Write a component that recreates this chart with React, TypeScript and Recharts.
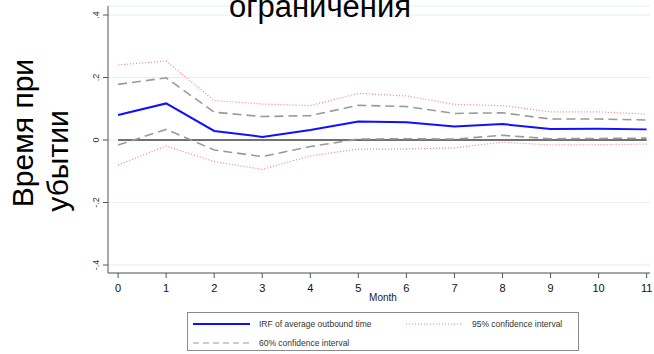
import React from "react";
import {
  LineChart,
  Line,
  XAxis,
  YAxis,
  CartesianGrid,
  ReferenceLine,
} from "recharts";

// Impulse response over 12 months with 60% and 95% bands
const months = [0, 1, 2, 3, 4, 5, 6, 7, 8, 9, 10, 11];
const irf = [0.08, 0.117, 0.029, 0.01, 0.032, 0.059, 0.057, 0.043, 0.051, 0.035, 0.036, 0.034];
const ci60Upper = [0.178, 0.199, 0.089, 0.075, 0.078, 0.111, 0.107, 0.085, 0.087, 0.067, 0.067, 0.064];
const ci60Lower = [-0.016, 0.034, -0.032, -0.053, -0.021, 0.003, 0.004, 0.003, 0.015, 0.004, 0.005, 0.006];
const ci95Upper = [0.24, 0.253, 0.126, 0.115, 0.11, 0.149, 0.141, 0.114, 0.11, 0.09, 0.09, 0.083];
const ci95Lower = [-0.08, -0.019, -0.069, -0.094, -0.051, -0.029, -0.029, -0.025, -0.007, -0.016, -0.015, -0.013];
const yTicks = [-0.4, -0.2, 0, 0.2, 0.4];

const FONT = "'Liberation Sans', Arial, sans-serif";
const BLUE = "#1010ff";
const RED = "#ff8080";
const GRAY = "#9a9a9a";

const data = months.map((m, i) => ({
  month: m,
  irf: irf[i],
  lo60: ci60Lower[i],
  hi60: ci60Upper[i],
  lo95: ci95Lower[i],
  hi95: ci95Upper[i],
}));

// Stata-style labels: ".2", "-.4"
const fmt = (v: number) => {
  if (Math.abs(v) < 1e-9) return "0";
  const s = String(Math.round(v * 10) / 10);
  return s.replace(/^(-?)0\./, "$1.");
};

const RotatedTick = (props: any) => {
  const { x, y, payload } = props;
  const tx = x - 2;
  return (
    <text
      x={tx}
      y={y}
      transform={`rotate(-90, ${tx}, ${y})`}
      textAnchor="middle"
      fontSize={9}
      fontFamily={FONT}
      fill="#333"
    >
      {fmt(payload.value)}
    </text>
  );
};

const legendItems = [
  { label: "IRF of average outbound time", color: BLUE, dash: undefined, width: 2, left: 5, top: 11 },
  { label: "95% confidence interval", color: RED, dash: "1 2", width: 1.2, left: 218, top: 11 },
  { label: "60% confidence interval", color: GRAY, dash: "6 4", width: 1.2, left: 5, top: 30 },
];

export default function App() {
  return (
    <div
      style={{
        position: "absolute",
        left: 0,
        top: 0,
        width: 654,
        height: 354,
        background: "#fff",
        overflow: "hidden",
        fontFamily: FONT,
      }}
    >
      <LineChart
        width={654}
        height={354}
        data={data}
        margin={{ top: 6, right: 4, left: 78, bottom: 51 }}
      >
        <CartesianGrid vertical={false} stroke="#e4eef0" />
        <XAxis
          dataKey="month"
          type="number"
          domain={[-0.21, 11.07]}
          ticks={months}
          interval={0}
          height={30}
          tickSize={5}
          tickMargin={6}
          stroke="#555"
          tick={{ fontSize: 11, fill: "#111", fontFamily: FONT }}
          label={{
            value: "Month",
            position: "insideBottom",
            offset: 2,
            fontSize: 10,
            fill: "#222",
            fontFamily: FONT,
            dx: 4,
          }}
        />
        <YAxis
          type="number"
          domain={[-0.4256, 0.4288]}
          ticks={yTicks}
          width={30}
          tickSize={5}
          stroke="#555"
          tick={<RotatedTick />}
        />
        <ReferenceLine
          segment={[
            { x: 0, y: 0 },
            { x: 11, y: 0 },
          ]}
          stroke="#444"
          strokeWidth={1.6}
        />
        <Line dataKey="hi95" stroke={RED} strokeWidth={1.2} strokeDasharray="1 2" dot={false} isAnimationActive={false} />
        <Line dataKey="lo95" stroke={RED} strokeWidth={1.2} strokeDasharray="1 2" dot={false} isAnimationActive={false} />
        <Line dataKey="hi60" stroke={GRAY} strokeWidth={1.6} strokeDasharray="9 5" dot={false} isAnimationActive={false} />
        <Line dataKey="lo60" stroke={GRAY} strokeWidth={1.6} strokeDasharray="9 5" dot={false} isAnimationActive={false} />
        <Line dataKey="irf" stroke={BLUE} strokeWidth={2} dot={false} isAnimationActive={false} />
      </LineChart>

      {/* titles */}
      <svg
        width={654}
        height={354}
        style={{ position: "absolute", left: 0, top: 0, pointerEvents: "none" }}
      >
        <text x={320} y={17} textAnchor="middle" fontSize={31} fontFamily={FONT} fill="#000">
          ограничения
        </text>
        <text
          x={33}
          y={133}
          transform="rotate(-90, 33, 133)"
          textAnchor="middle"
          fontSize={30}
          fontFamily={FONT}
          fill="#000"
        >
          Время при
        </text>
        <text
          x={68}
          y={161}
          transform="rotate(-90, 68, 161)"
          textAnchor="middle"
          fontSize={30}
          fontFamily={FONT}
          fill="#000"
        >
          убытии
        </text>
      </svg>

      {/* legend box */}
      <div
        style={{
          position: "absolute",
          left: 187,
          top: 312,
          width: 392,
          height: 39,
          border: "1px solid #8a8a8a",
          boxSizing: "border-box",
          background: "#fff",
        }}
      >
        <svg width={390} height={37} style={{ position: "absolute", left: 0, top: 0 }}>
          {legendItems.map((it) => (
            <g key={it.label}>
              <line
                x1={it.left}
                x2={it.left + 57}
                y1={it.top}
                y2={it.top}
                stroke={it.color}
                strokeWidth={it.width}
                strokeDasharray={it.dash}
              />
              <text
                x={it.left + 66}
                y={it.top + 3}
                fontSize={8.5}
                fontFamily={FONT}
                fill="#333"
              >
                {it.label}
              </text>
            </g>
          ))}
        </svg>
      </div>
    </div>
  );
}
